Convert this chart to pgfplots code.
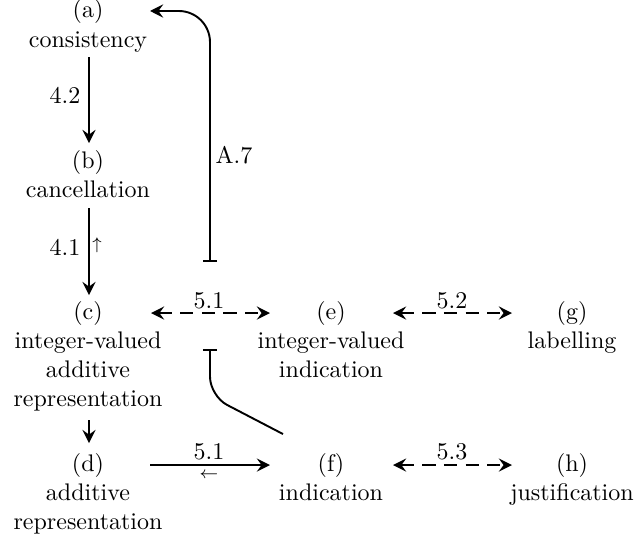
\documentclass[border=0pt]{standalone}
\usepackage{pgfplots}
\pgfplotsset{compat=1.18}
\usetikzlibrary{arrows.meta}
\tikzset{
  tx/.style={anchor=base,inner sep=0pt},
  lb/.style={anchor=center,inner sep=0pt},
  arr/.style={-{Stealth[length=5.5pt,width=5.5pt,inset=2pt]}},
  darr/.style={{Stealth[length=5.5pt,width=5.5pt,inset=2pt]}-{Stealth[length=5.5pt,width=5.5pt,inset=2pt]},dash pattern=on 5.5pt off 3.5pt}}
\begin{document}
\begin{tikzpicture}
\begin{axis}[width=265pt,height=224.6pt,scale only axis,
  xmin=0,xmax=636,ymin=0,ymax=539,y dir=reverse,
  axis lines=none,clip=false,
  every axis plot/.append style={line width=0.8pt,black,no marks}]
% frame of the picture (invisible)
\addplot[draw=none] coordinates {(0,0) (636,539)};
% node texts
\node[tx] at (axis cs:88,18) {(a)};
\node[tx] at (axis cs:88,47) {consistency};
\node[tx] at (axis cs:88,168) {(b)};
\node[tx] at (axis cs:88,197) {cancellation};
\node[tx] at (axis cs:88,319) {(c)};
\node[tx] at (axis cs:88,348) {integer-valued};
\node[tx] at (axis cs:88,377) {additive};
\node[tx] at (axis cs:88,406) {representation};
\node[tx] at (axis cs:88,471) {(d)};
\node[tx] at (axis cs:88,500) {additive};
\node[tx] at (axis cs:88,529) {representation};
\node[tx] at (axis cs:331,319) {(e)};
\node[tx] at (axis cs:331,348) {integer-valued};
\node[tx] at (axis cs:331,377) {indication};
\node[tx] at (axis cs:331,471) {(f)};
\node[tx] at (axis cs:331,500) {indication};
\node[tx] at (axis cs:572,319) {(g)};
\node[tx] at (axis cs:572,348) {labelling};
\node[tx] at (axis cs:572,471) {(h)};
\node[tx] at (axis cs:572,500) {justification};
% arrows
\addplot[arr] coordinates {(89,57) (89,143)};
\addplot[arr] coordinates {(89,208) (89,295)};
\addplot[arr] coordinates {(89,420) (89,443)};
\addplot[{Bar[width=6pt]}-{Stealth[length=5.5pt,width=5.5pt,inset=2pt]},rounded corners=13pt] coordinates {(210,262) (210,11) (150,11)};
\addplot[{Bar[width=6pt]}-,rounded corners=8pt] coordinates {(210,349) (210,396) (283,434)};
\addplot[darr] coordinates {(151,313) (270,313)};
\addplot[darr] coordinates {(393,313) (512,313)};
\addplot[arr] coordinates {(150,465) (270,465)};
\addplot[darr] coordinates {(393,465) (512,465)};
% labels
\node[lb] at (axis cs:65,95) {4.2};
\node[lb] at (axis cs:65,247) {4.1};
\node[lb] at (axis cs:97,245) {$\scriptstyle\uparrow$};
\node[lb] at (axis cs:234,155) {A.7};
\node[lb] at (axis cs:209,301) {5.1};
\node[lb] at (axis cs:209,452) {5.1};
\node[lb] at (axis cs:209,475) {$\scriptstyle\leftarrow$};
\node[lb] at (axis cs:452,301) {5.2};
\node[lb] at (axis cs:452,452) {5.3};
\end{axis}
\end{tikzpicture}
\end{document}
